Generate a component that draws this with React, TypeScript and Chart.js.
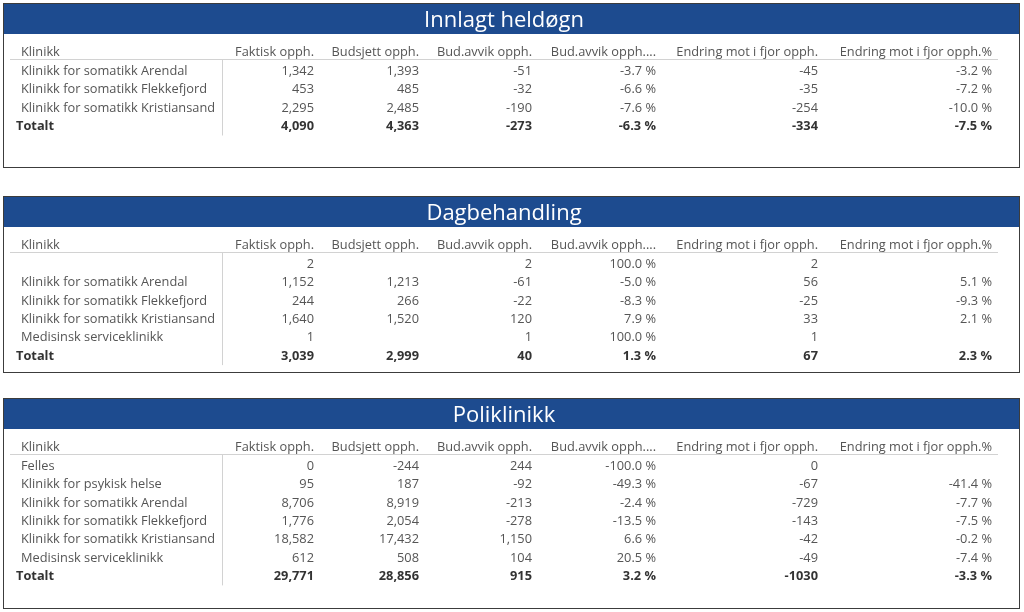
import React, { useEffect, useRef } from 'react';
import { Chart, registerables } from 'chart.js';

Chart.register(...registerables);

// ---------- Data ----------
const COLUMN_HEADERS = [
  'Klinikk',
  'Faktisk opph.',
  'Budsjett opph.',
  'Bud.avvik opph.',
  'Bud.avvik opph....',
  'Endring mot i fjor opph.',
  'Endring mot i fjor opph.%',
];
const TOTAL_LABEL = 'Totalt';

// Innlagt heldøgn
const INN_TITLE = 'Innlagt heldøgn';
const INN_KLINIKK = ['Klinikk for somatikk Arendal', 'Klinikk for somatikk Flekkefjord', 'Klinikk for somatikk Kristiansand'];
const INN_FAKTISK = [1342, 453, 2295];
const INN_BUDSJETT = [1393, 485, 2485];
const INN_AVVIK = [-51, -32, -190];
const INN_AVVIK_PCT = [-3.7, -6.6, -7.6];
const INN_ENDRING = [-45, -35, -254];
const INN_ENDRING_PCT = [-3.2, -7.2, -10.0];
const INN_TOTAL = [4090, 4363, -273, -6.3, -334, -7.5];

// Dagbehandling
const DAG_TITLE = 'Dagbehandling';
const DAG_KLINIKK = ['', 'Klinikk for somatikk Arendal', 'Klinikk for somatikk Flekkefjord', 'Klinikk for somatikk Kristiansand', 'Medisinsk serviceklinikk'];
const DAG_FAKTISK = [2, 1152, 244, 1640, 1];
const DAG_BUDSJETT = [null, 1213, 266, 1520, null];
const DAG_AVVIK = [2, -61, -22, 120, 1];
const DAG_AVVIK_PCT = [100.0, -5.0, -8.3, 7.9, 100.0];
const DAG_ENDRING = [2, 56, -25, 33, 1];
const DAG_ENDRING_PCT = [null, 5.1, -9.3, 2.1, null];
const DAG_TOTAL = [3039, 2999, 40, 1.3, 67, 2.3];

// Poliklinikk
const POL_TITLE = 'Poliklinikk';
const POL_KLINIKK = ['Felles', 'Klinikk for psykisk helse', 'Klinikk for somatikk Arendal', 'Klinikk for somatikk Flekkefjord', 'Klinikk for somatikk Kristiansand', 'Medisinsk serviceklinikk'];
const POL_FAKTISK = [0, 95, 8706, 1776, 18582, 612];
const POL_BUDSJETT = [-244, 187, 8919, 2054, 17432, 508];
const POL_AVVIK = [244, -92, -213, -278, 1150, 104];
const POL_AVVIK_PCT = [-100.0, -49.3, -2.4, -13.5, 6.6, 20.5];
const POL_ENDRING = [0, -67, -729, -143, -42, -49];
const POL_ENDRING_PCT = [null, -41.4, -7.7, -7.5, -0.2, -7.4];
const POL_TOTAL = [29771, 28856, 915, 3.2, -1030, -3.3];

// column value formats
const COLUMN_FORMATS = ['int', 'int', 'int', 'pct', 'plain', 'pct'];

// ---------- Styles / layout ----------
const COLUMN_WIDTHS = [212, 98, 105, 113, 124, 162, 174];
const FONT = '"Open Sans", "Noto Sans", sans-serif';
const FONT_SIZE = 12.8;
const TITLE_SIZE = 22;
const BLUE = '#1d4b8f';
const BORDER = '#3c3c3c';
const TEXT = '#555555';
const TEXT_BOLD = '#333333';
const GRID = '#d2d2d2';
const ROW_H = 18.3;
const TITLE_BAR_H = 30;
const HEAD_H = 40;
const TITLE_PAD_TOP = 3.5;
const PANEL_LEFT = 3;
const PANEL_WIDTH = 1017;

function fmt(v: number | null, kind: string): string {
  if (v === null || v === undefined) return '';
  if (kind === 'pct') return v.toFixed(1) + ' %';
  if (kind === 'int') return v.toLocaleString('en-US');
  return String(v);
}

type PanelProps = {
  title: string;
  labels: string[];
  columns: (number | null)[][];
  total: number[];
  top: number;
  height: number;
};

function makeTablePlugin(p: PanelProps) {
  return {
    id: 'tablePlugin',
    beforeDraw(chart: any) {
      const ctx = chart.ctx;
      ctx.save();
      ctx.fillStyle = BLUE;
      ctx.fillRect(0, 0, chart.width, TITLE_BAR_H);
      ctx.restore();
    },
    afterDraw(chart: any) {
      const ctx = chart.ctx;
      const x = chart.scales.x;
      const y = chart.scales.y;
      const bounds: number[] = [0];
      COLUMN_WIDTHS.forEach((w, i) => bounds.push(bounds[i] + w));
      const px = (v: number) => x.getPixelForValue(v);
      ctx.save();
      ctx.textBaseline = 'middle';

      // header row
      ctx.font = `${FONT_SIZE}px ${FONT}`;
      ctx.fillStyle = TEXT;
      const hy = y.getPixelForValue(0) - 1;
      COLUMN_HEADERS.forEach((h, c) => {
        if (c === 0) {
          ctx.textAlign = 'left';
          ctx.fillText(h, px(bounds[0]) + 11, hy);
        } else {
          ctx.textAlign = 'right';
          ctx.fillText(h, px(bounds[c + 1]) - 6, hy);
        }
      });

      // header line
      const ly = Math.round(y.getPixelForValue(0.5) - 3.5) + 0.5;
      ctx.strokeStyle = GRID;
      ctx.lineWidth = 1;
      ctx.beginPath();
      ctx.moveTo(x.left, ly);
      ctx.lineTo(x.right, ly);
      ctx.stroke();

      // separator
      const sx = Math.round(px(bounds[1])) + 0.5;
      ctx.beginPath();
      ctx.moveTo(sx, ly);
      ctx.lineTo(sx, y.bottom);
      ctx.stroke();

      // data rows
      const n = p.labels.length;
      for (let r = 0; r < n; r++) {
        const ry = y.getPixelForValue(r + 1);
        ctx.fillStyle = TEXT;
        ctx.font = `${FONT_SIZE}px ${FONT}`;
        ctx.textAlign = 'left';
        ctx.fillText(p.labels[r], px(bounds[0]) + 11, ry);
        ctx.textAlign = 'right';
        p.columns.forEach((col, c) => {
          ctx.fillText(fmt(col[r], COLUMN_FORMATS[c]), px(bounds[c + 2]) - 6, ry);
        });
      }
      // total row
      const ty = y.getPixelForValue(n + 1);
      ctx.fillStyle = TEXT_BOLD;
      ctx.font = `bold ${FONT_SIZE}px ${FONT}`;
      ctx.textAlign = 'left';
      ctx.fillText(TOTAL_LABEL, px(bounds[0]) + 6, ty);
      ctx.textAlign = 'right';
      p.total.forEach((v, c) => {
        ctx.fillText(fmt(v, COLUMN_FORMATS[c]), px(bounds[c + 2]) - 6, ty);
      });
      ctx.restore();
    },
  };
}

function Panel(p: PanelProps) {
  const ref = useRef<HTMLCanvasElement>(null);
  const innerW = PANEL_WIDTH - 2;
  const innerH = p.height - 2;
  useEffect(() => {
    const slots = p.labels.length + 2;
    const totalW = COLUMN_WIDTHS.reduce((a, b) => a + b, 0);
    const padBottom = innerH - HEAD_H - slots * ROW_H;
    const titleLine = TITLE_SIZE * 1.2;
    const chart = new Chart(ref.current as HTMLCanvasElement, {
      type: 'scatter',
      data: { datasets: [] },
      options: {
        animation: false,
        responsive: false,
        events: [],
        layout: { padding: { left: 6, right: innerW - 6 - totalW, top: 0, bottom: padBottom } },
        plugins: {
          legend: { display: false },
          tooltip: { enabled: false },
          title: {
            display: true,
            text: p.title,
            color: '#ffffff',
            font: { family: FONT, size: TITLE_SIZE, weight: 'normal', lineHeight: 1.2 },
            padding: { top: TITLE_PAD_TOP, bottom: HEAD_H - TITLE_PAD_TOP - titleLine },
          },
        },
        scales: {
          x: { type: 'linear', display: false, min: 0, max: totalW },
          y: { type: 'linear', display: false, reverse: true, min: -0.5, max: slots - 0.5 },
        },
      },
      plugins: [makeTablePlugin(p)],
    } as any);
    return () => chart.destroy();
  }, []);
  return (
    <div
      style={{
        position: 'absolute',
        left: PANEL_LEFT,
        top: p.top,
        width: PANEL_WIDTH,
        height: p.height,
        boxSizing: 'border-box',
        border: `1px solid ${BORDER}`,
        background: '#fff',
      }}
    >
      <canvas ref={ref} width={innerW} height={innerH} style={{ display: 'block', width: innerW, height: innerH }} />
    </div>
  );
}

export default function App() {
  return (
    <div>
      <Panel
        title={INN_TITLE}
        labels={INN_KLINIKK}
        columns={[INN_FAKTISK, INN_BUDSJETT, INN_AVVIK, INN_AVVIK_PCT, INN_ENDRING, INN_ENDRING_PCT]}
        total={INN_TOTAL}
        top={3}
        height={165}
      />
      <Panel
        title={DAG_TITLE}
        labels={DAG_KLINIKK}
        columns={[DAG_FAKTISK, DAG_BUDSJETT, DAG_AVVIK, DAG_AVVIK_PCT, DAG_ENDRING, DAG_ENDRING_PCT]}
        total={DAG_TOTAL}
        top={196}
        height={177}
      />
      <Panel
        title={POL_TITLE}
        labels={POL_KLINIKK}
        columns={[POL_FAKTISK, POL_BUDSJETT, POL_AVVIK, POL_AVVIK_PCT, POL_ENDRING, POL_ENDRING_PCT]}
        total={POL_TOTAL}
        top={398}
        height={211}
      />
    </div>
  );
}
